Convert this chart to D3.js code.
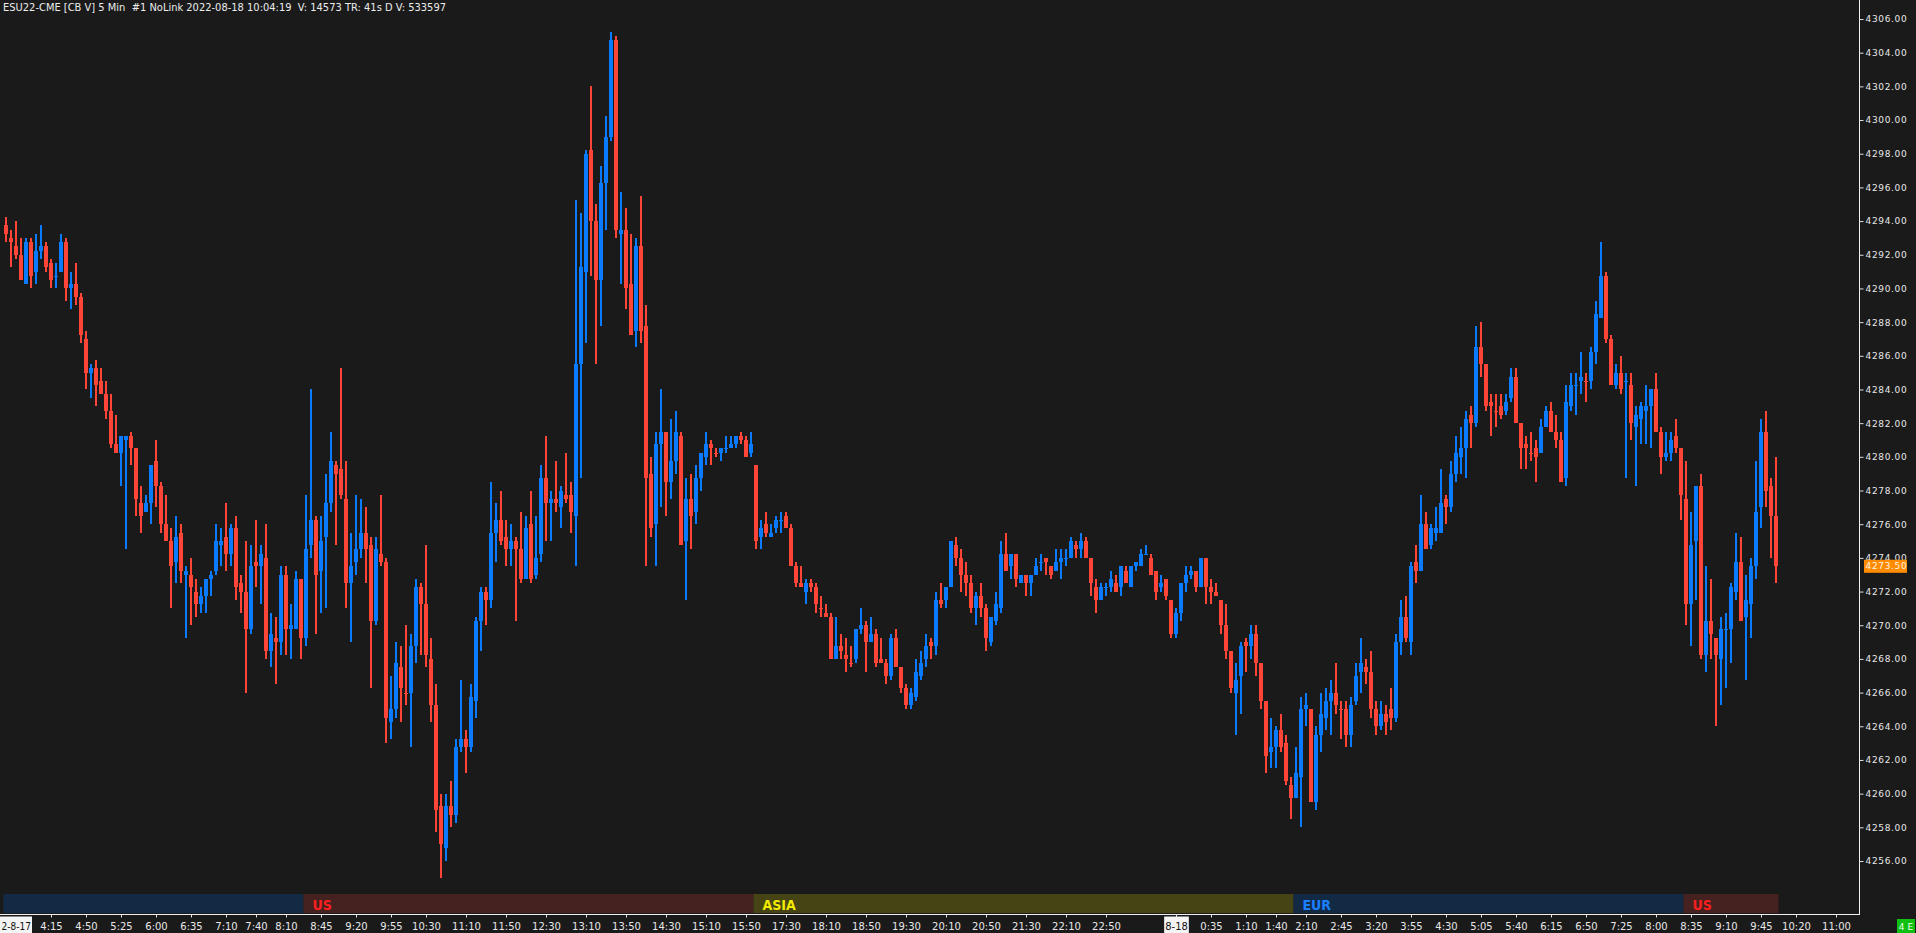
<!DOCTYPE html>
<html><head><meta charset="utf-8">
<script src="https://cdn.jsdelivr.net/npm/d3@7"></script>
<style>html,body{margin:0;padding:0;background:#1a1a1a;overflow:hidden}</style>
</head><body>
<svg id="c" width="1916" height="933"></svg>
<script>
// ESU22 5-min bars, 2022-08-17 03:30 .. 2022-08-18 10:00 (no bars 16:00-17:00)
const openP = [
4293.75,4293,4292.5,4292,4290.25,4292.75,4291,4292.25,4292.5,4291.5,
4290.75,4291,4292.75,4290,4290.25,4289.5,4287,4285,4285.25,4284.5,
4283.75,4282.75,4280.75,4280.25,4281,4281.25,4280.5,4277.25,4276.75,4277.25,
4279.75,4278.25,4276,4275,4273.75,4275.5,4273,4273,4272,4271.25,
4271.75,4272.75,4273.25,4274.75,4275.25,4274.25,4275.75,4272.5,4272,4269.75,
4273.75,4273.5,4274,4268.5,4269.25,4269,4273,4269.75,4269.75,4272.75,
4269.25,4274.75,4276.25,4273.25,4275.25,4277.25,4279.5,4279.25,4277.5,4272.5,
4273.75,4274.5,4275.5,4274.75,4270.25,4274.25,4273.75,4264.25,4265,4267.5,
4266,4266,4268.75,4272.25,4271.25,4268,4265.25,4259.25,4256.75,4259.25,
4258.75,4262.75,4263.25,4262.75,4265.5,4270.25,4272,4271.5,4275.5,4276.25,
4275.25,4274.5,4275,4274.5,4272.75,4276,4273,4274.25,4278.75,4277.25,
4277.5,4277,4277.75,4277.75,4276.5,4285.5,4291,4298.25,4294,4290.5,
4296.25,4299,4304.75,4293.25,4293.5,4290.25,4287.5,4292.5,4287.75,4279,
4276,4280.75,4281.5,4278.5,4279.75,4281.25,4275,4277.5,4276.75,4278.75,
4280,4280.75,4280.25,4280.25,4280.5,4280.5,4280.75,4281.25,4281,4280.25,
4279.5,4275.25,4276,4275.25,4275.75,4276.25,4276.5,4275.75,4273.5,4272.5,
4272,4272.5,4272.25,4271,4270.75,4270.5,4268,4268.75,4268.25,4267.75,
4268,4269.75,4270,4269,4269.5,4268,4267.75,4267,4269.25,4267.5,
4266.25,4265.25,4265.75,4267,4268,4269,4268.75,4271.5,4271.5,4272.25,
4274.75,4274,4273,4272.5,4271,4271.75,4271,4269,4270.25,4271,
4274.25,4273.5,4274.25,4272.5,4273,4272.5,4273,4273.75,4274,4273.5,
4273.25,4273.75,4274,4274,4274.75,4274.5,4275,4274,4272.25,4271.5,
4272.25,4272.25,4272.5,4272.25,4273.25,4272.25,4273.5,4273.5,4274.25,4274,
4273.25,4272.25,4272.75,4271.5,4269.5,4270.75,4272.5,4273,4273.25,4272.25,
4274,4272.25,4272,4271.5,4270,4268.5,4266,4267,4269,4268.75,
4269.5,4267.75,4265.5,4262.5,4262.75,4263.75,4263,4260.5,4259.75,4261,
4265,4265,4259.5,4263.5,4264.5,4265.5,4266,4265,4265,4263.5,
4265.5,4267.25,4267.5,4267.25,4265,4264,4264.75,4265,4264.5,4269,
4270.5,4269,4273.75,4273.25,4276,4274.75,4275.5,4275.5,4277.5,4277,
4279,4280,4280.5,4282.5,4282,4286.5,4285.5,4283.25,4282.75,4283,
4282.75,4283.5,4284.75,4282,4280.75,4280.25,4280.5,4280.25,4281.75,4282.75,
4281.5,4281,4278.75,4283,4284.25,4284.5,4284.5,4284.5,4286.25,4288.25,
4290.75,4287,4284.25,4285,4284.5,4284.25,4281.75,4282.25,4282.75,4283,
4284,4281.5,4280,4280.25,4281.25,4280.5,4277.5,4271.25,4275,4278.25,
4268.25,4270.25,4269.25,4268,4269.75,4269.75,4272,4273.75,4270.5,4271.25,
4273.5,4277,4281.5,4278.25,4276.5];
const highP = [
4294.25,4293.5,4294,4293,4293,4293,4293.25,4293.75,4292.75,4291.75,
4291.5,4293.25,4293,4291,4291.5,4289.75,4287.5,4285.5,4285.75,4285.25,
4284.5,4283.75,4282.5,4281.25,4281.25,4281.5,4280.5,4278.25,4277.75,4279.5,
4281,4278.5,4277.75,4275.75,4276.5,4276,4273.5,4274,4272.75,4272.25,
4272.75,4273.25,4276,4275.75,4277.25,4276,4276.5,4273,4275,4274.75,
4276.25,4274.75,4276,4270.75,4270.5,4273.5,4273.5,4271.25,4273.25,4272.75,
4277.75,4284,4276.5,4276.5,4279,4281.5,4279.75,4285.25,4279.75,4275.5,
4277.75,4277.5,4277,4275.25,4275.25,4277.75,4274,4267,4269,4268.75,
4270,4269.5,4272.75,4272.5,4274.75,4269.25,4266.5,4260,4260,4260.75,
4263.25,4266.75,4263.75,4266.5,4270.5,4272.25,4272.25,4278.5,4277.25,4278,
4276.25,4276,4275.25,4276.75,4276.5,4278,4276.5,4279.5,4281.25,4278,
4279.75,4278.25,4280.25,4278.5,4295.25,4294.5,4298.25,4302,4295,4297.25,
4300.25,4305.25,4305,4295.75,4294.75,4293.25,4293,4295.5,4289,4280,
4281.5,4284,4281.5,4282.25,4282.75,4281.5,4278.75,4279,4279.5,4280.25,
4281.5,4281,4280.5,4280.5,4281.25,4281.25,4281.25,4281.5,4281.25,4281.5,
4279.5,4276.25,4276.75,4276,4276.5,4276.75,4276.75,4276,4273.75,4273.5,
4272.75,4272.75,4272.5,4271.75,4271.25,4270.75,4270.5,4269.5,4269.25,4268.75,
4269.75,4271,4270.25,4270.5,4269.75,4269.25,4268,4269.5,4269.75,4267.5,
4266.5,4266.25,4268,4268.5,4269.5,4269.25,4272,4272.5,4272.25,4275,
4275.25,4274.5,4273.75,4273,4272,4272.5,4271.25,4270.5,4272,4275,
4275.5,4274.25,4274.25,4273,4273,4273,4274,4274.25,4274,4273.5,
4274.5,4274.5,4274.5,4275.25,4275,4275.5,4275.25,4274,4272.75,4272.5,
4272.5,4273.25,4273,4273.5,4273.5,4273.5,4273.75,4274.5,4274.75,4274.25,
4273.25,4273,4272.75,4271.5,4271,4272.5,4273.5,4273.5,4273.25,4274,
4274,4272.75,4272.5,4271.5,4271.25,4268.5,4267.75,4269,4269.25,4270,
4270,4267.75,4265.5,4264.5,4264,4264.75,4263.5,4261,4262.75,4265.75,
4266,4265,4264,4266,4266.25,4266.75,4267.75,4265.5,4265.5,4265.75,
4267.75,4269.25,4268,4268.5,4265.5,4265.5,4265.25,4266.25,4269.5,4271.5,
4271.75,4273.75,4274.75,4277.75,4276.75,4276,4277,4279.25,4277.75,4279.75,
4281.25,4281.75,4282.75,4283,4287.75,4288,4285.5,4283.75,4283.75,4283.75,
4283.75,4285.25,4285.25,4282,4281.25,4281.5,4281,4282.25,4283,4283.25,
4282.5,4281.5,4284.25,4285,4285,4286.25,4285,4286.5,4289.25,4292.75,
4291,4287.25,4285.5,4286,4285,4285,4283,4283.25,4284.25,4284,
4285,4281.75,4281.5,4281.5,4282.25,4280.5,4279.75,4276.75,4278.25,4279,
4273.5,4272.75,4269.25,4270.5,4270.75,4272.5,4275.5,4275.25,4273,4274,
4279.75,4282.25,4282.75,4278.75,4280];
const lowP = [
4292.75,4291.25,4291.75,4290.5,4290.25,4290,4290.25,4291.75,4291,4290,
4290,4291,4289.25,4288.75,4289,4286.75,4284,4283.5,4283,4283.75,
4282.25,4280.5,4280.25,4278.25,4274.5,4279.5,4276.5,4275.5,4276.75,4276,
4277,4275.5,4275,4271,4272.5,4272.5,4269.25,4270,4270.5,4270.75,
4270.75,4271.75,4273,4273.5,4273.25,4273.5,4271.5,4270.75,4266,4269.5,
4272.25,4271.25,4268,4267.5,4266.5,4268.25,4268.25,4268,4269.75,4268,
4268.75,4274,4269.5,4270.75,4271,4276.75,4274.75,4277.5,4271,4269,
4273,4274,4272.5,4266.25,4270,4273.5,4263,4263.25,4264.5,4264.25,
4265.25,4262.75,4267.75,4268.25,4267.5,4264.25,4257.75,4255,4256,4258,
4258.25,4262.5,4261.25,4262.5,4264.5,4268.5,4270,4271,4273.75,4274.75,
4273.5,4273.5,4270.25,4272.5,4272.75,4272.5,4272.75,4273.75,4275,4275,
4276.75,4275.75,4277.25,4275.5,4273.5,4278.75,4286.75,4290.75,4285.5,4287.75,
4293.5,4298.75,4293,4290.25,4288.75,4287.25,4286.5,4286.75,4273.5,4275.25,
4273.5,4277,4276.5,4277.5,4279,4274.75,4271.5,4274.5,4276,4278,
4279.5,4279.5,4280,4279.75,4280.25,4280.5,4280.5,4280.75,4280,4280,
4274.5,4274.5,4275.25,4275.25,4275.5,4275.5,4275.75,4273.5,4272.25,4272.25,
4271.25,4272,4270.75,4270.5,4270.5,4268,4268,4268,4267.25,4267.5,
4267.75,4269.5,4267.25,4269,4267.5,4267.75,4266.5,4266.75,4267.5,4266,
4265,4265,4265.5,4266.75,4267.5,4268,4268.25,4271,4271,4272.25,
4273.5,4272,4271.75,4270.75,4270,4270.5,4268.5,4268.75,4270,4270.75,
4273.25,4272.75,4272.25,4272.5,4271.75,4271.75,4273,4273.25,4273,4272.75,
4273.25,4272.75,4273.5,4274,4274,4274,4274,4271.75,4270.75,4271.5,
4271.75,4272,4272,4271.75,4272.5,4272.25,4273.25,4273.5,4274.25,4273,
4271.5,4272,4271.5,4269.25,4269.25,4270.25,4272,4272.75,4272,4272.25,
4271.25,4271.25,4271.75,4269.5,4268,4266,4263.5,4264.75,4267.25,4268,
4267,4265,4261.25,4261.5,4261.5,4262.5,4260.5,4258.5,4259.75,4258,
4264,4259.5,4259,4262.5,4263.75,4263.5,4264.75,4263.25,4262.75,4262.75,
4265.25,4266,4266.5,4264.5,4263.5,4263.75,4263.5,4263.75,4264.25,4268.25,
4269,4268.25,4272.5,4273.25,4274.5,4274.5,4275,4275.5,4276,4276.75,
4278.5,4279,4278.75,4280.5,4281.75,4284.75,4282.75,4281.25,4281.75,4282.25,
4282.5,4283.25,4282,4279.25,4279.25,4279.75,4278.5,4280.25,4281.75,4281.5,
4280.5,4278.5,4278.25,4282.75,4282.5,4283.75,4283.25,4284,4285.5,4288.25,
4286.75,4284.25,4284,4283.75,4278.75,4281,4278.25,4280.75,4280.75,4280.5,
4281.5,4279,4279.75,4279.75,4280.25,4276.25,4270,4268.75,4271.5,4268,
4267.25,4268,4264,4265.25,4266.25,4267.75,4271.5,4270.25,4266.75,4269.25,
4272.75,4275.75,4277,4274,4272.5];
const closeP = [
4293.25,4292.75,4292,4290.5,4292.75,4290.75,4292.25,4292.5,4291.25,4290.5,
4290.75,4292.75,4290,4290.25,4289.5,4287.25,4285,4285.25,4284.25,4283.75,
4282.75,4280.75,4280.25,4281.25,4281.25,4280.5,4277.5,4276.5,4277.25,4279.5,
4278.25,4276,4275,4273.5,4275.25,4273.25,4273.25,4272.25,4271.25,4271.75,
4272.75,4273,4275,4275,4274.25,4275.75,4272.25,4272,4269.75,4273.5,
4273.5,4274.25,4268.5,4269.5,4269,4273,4269.75,4270,4272.75,4269.25,
4274.5,4276.25,4273,4275,4277.25,4279.75,4279,4277.75,4272.5,4273.5,
4274.5,4275.5,4274.5,4270.25,4274.5,4273.75,4264.5,4265,4267.75,4266.25,
4266,4268.75,4272.25,4271.25,4268.25,4265.25,4259,4257,4259.25,4258.75,
4262.75,4263.25,4262.75,4265.75,4270.25,4272,4271.5,4275.5,4276.25,4275,
4274.5,4275,4274.5,4272.75,4275.75,4272.75,4274,4278.75,4277.25,4277.5,
4277.25,4278,4277.5,4276.75,4285.5,4291.25,4298,4294,4290.5,4296.25,
4299,4304.75,4293.5,4293.5,4290,4287.25,4292.5,4287.5,4278.75,4275.75,
4280.75,4281.5,4278.5,4279.75,4281.5,4274.75,4277.5,4276.5,4278.75,4280.25,
4280.75,4280.5,4280.25,4280.5,4280.5,4280.75,4281.25,4281,4280,4280.75,
4275,4275.75,4275.5,4275.5,4276.25,4276.25,4275.75,4273.5,4272.5,4272.25,
4272.5,4272.25,4271.25,4271,4270.5,4268,4268.75,4268.5,4268,4267.75,
4269.75,4270,4269,4269.5,4267.75,4267.75,4267,4269.25,4267.5,4266.25,
4265.25,4266,4267.25,4267.75,4268.75,4268.75,4271.5,4271.25,4272.25,4275,
4274,4273,4272.5,4271,4271.75,4271,4269.25,4270.5,4271.25,4274.25,
4273.25,4274.25,4272.75,4273,4272.5,4273,4273.5,4273.75,4273.75,4273,
4273.75,4274,4274,4275,4274.5,4275,4274,4272.5,4271.5,4272.25,
4272.25,4272.75,4272,4273.5,4272.5,4273.5,4273.75,4274.25,4274.25,4273,
4272,4272.5,4271.75,4269.5,4270.75,4272.5,4273,4273.25,4272.25,4274,
4272.25,4272,4271.75,4270,4268.5,4266.25,4266.75,4268.75,4268.75,4269.5,
4267.75,4265.5,4262.25,4262.75,4263.75,4262.75,4260.75,4259.75,4261.25,4265,
4265.25,4259.5,4263.5,4264.75,4265.5,4266,4265.25,4265,4263.5,4265.25,
4267,4267.75,4267.25,4265,4264,4264.75,4264.25,4264.5,4269,4270.5,
4269.25,4273.5,4273.25,4276,4274.5,4275.75,4275.75,4277.25,4277,4279,
4280.25,4280.5,4282.25,4282,4286.5,4285.5,4283,4283,4282.75,4282.5,
4283.25,4284.75,4282,4280.5,4280.5,4280.25,4280,4281.75,4282.75,4281.5,
4281,4278.5,4283.25,4284.25,4284.25,4284.75,4284.5,4286.25,4288.5,4290.75,
4287,4284.25,4285,4284,4284.5,4282,4282.5,4283,4283,4284,
4281.5,4280,4280.25,4281,4280.5,4277.75,4271.25,4274.75,4278.25,4268.25,
4270.25,4269.5,4268.25,4269.75,4269.75,4272.25,4273.75,4270.25,4271.5,4273.5,
4276.75,4281.5,4278,4276.5,4273.5];

// time-axis labels: [label, day, time]
const timeTicks = [
 ["4:15",17,"4:15"],["4:50",17,"4:50"],["5:25",17,"5:25"],["6:00",17,"6:00"],["6:35",17,"6:35"],
 ["7:10",17,"7:10"],["7:40",17,"7:40"],["8:10",17,"8:10"],["8:45",17,"8:45"],["9:20",17,"9:20"],
 ["9:55",17,"9:55"],["10:30",17,"10:30"],["11:10",17,"11:10"],["11:50",17,"11:50"],["12:30",17,"12:30"],
 ["13:10",17,"13:10"],["13:50",17,"13:50"],["14:30",17,"14:30"],["15:10",17,"15:10"],["15:50",17,"15:50"],
 ["17:30",17,"17:30"],["18:10",17,"18:10"],["18:50",17,"18:50"],["19:30",17,"19:30"],["20:10",17,"20:10"],
 ["20:50",17,"20:50"],["21:30",17,"21:30"],["22:10",17,"22:10"],["22:50",17,"22:50"],["8-18",18,"0:00"],
 ["0:35",18,"0:35"],["1:10",18,"1:10"],["1:40",18,"1:40"],["2:10",18,"2:10"],["2:45",18,"2:45"],
 ["3:20",18,"3:20"],["3:55",18,"3:55"],["4:30",18,"4:30"],["5:05",18,"5:05"],["5:40",18,"5:40"],
 ["6:15",18,"6:15"],["6:50",18,"6:50"],["7:25",18,"7:25"],["8:00",18,"8:00"],["8:35",18,"8:35"],
 ["9:10",18,"9:10"],["9:45",18,"9:45"],["10:20",18,"10:20"],["11:00",18,"11:00"]];
const priceTicks = d3.range(4256, 4307, 2);
const sessionNames = ["", "US", "ASIA", "EUR", "US"];
const sessionStarts = [[17,"3:30"],[17,"8:30"],[17,"17:00"],[18,"2:00"],[18,"8:30"]];
const sessionEnd = [18,"10:05"];
const lastPrice = 4273.50;
const title = "ESU22-CME [CB V] 5 Min  #1 NoLink 2022-08-18 10:04:19  V: 14573 TR: 41s D V: 533597";

function barIndex(day, t){
  const [hh, mm] = t.split(":").map(Number);
  const m = hh*60 + mm;
  if (day === 17) return m < 960 ? (m - 210)/5 : 150 + (m - 1020)/5;
  return 234 + m/5;
}

const svg = d3.select("#c");
const W = 1916, H = 933, plotR = 1859, plotB = 915;
const x = d3.scaleLinear().domain([0, 366]).range([6, 1836]);
const y = d3.scaleLinear().domain([4256, 4306]).range([861, 19]);
const UP = "#0a7bff", DN = "#ff4438";

svg.append("rect").attr("width", W).attr("height", H).attr("fill", "#1a1a1a");

const bars = openP.map((o, i) => ({i, o, h: highP[i], l: lowP[i], c: closeP[i]}));
bars.forEach((b, k) => {
  const prev = k > 0 ? bars[k-1].c : b.o;
  b.up = b.c > b.o || (b.c === b.o && b.c >= prev);
});

svg.append("clipPath").attr("id", "pc").append("rect").attr("x", 0).attr("y", 0).attr("width", plotR).attr("height", plotB);
const gBars = svg.append("g").attr("clip-path", "url(#pc)").attr("shape-rendering", "crispEdges");

gBars.selectAll("rect.w").data(bars).join("rect").attr("class", "w")
  .attr("x", d => Math.round(x(d.i)) - 1).attr("width", 2)
  .attr("y", d => y(d.h)).attr("height", d => Math.max(1, y(d.l) - y(d.h)))
  .attr("fill", d => d.up ? UP : DN);
gBars.selectAll("rect.b").data(bars).join("rect").attr("class", "b")
  .attr("x", d => Math.round(x(d.i)) - 2).attr("width", 4)
  .attr("y", d => y(Math.max(d.o, d.c))).attr("height", d => Math.max(1, Math.abs(y(d.o) - y(d.c))))
  .attr("fill", d => d.up ? UP : DN);

// session bands
const sessColors = {"": "#132a45", "US": "#45211f", "ASIA": "#464414", "EUR": "#132a45"};
const sessText = {"US": "#ff1f1f", "ASIA": "#f2ea00", "EUR": "#1a80ff"};
sessionNames.forEach((name, k) => {
  const i0 = barIndex(sessionStarts[k][0], sessionStarts[k][1]);
  const e = k < sessionNames.length - 1 ? sessionStarts[k+1] : sessionEnd;
  const i1 = barIndex(e[0], e[1]);
  const x0 = x(i0) - 2.5, x1 = x(i1) - 2.5;
  svg.append("rect").attr("x", x0).attr("y", 894).attr("width", x1 - x0).attr("height", 19)
    .attr("fill", sessColors[name]);
  if (name) svg.append("text").attr("x", x0 + 9).attr("y", 910).text(name)
    .attr("fill", sessText[name])
    .style("font", "bold 14px 'DejaVu Sans Condensed','Liberation Sans Narrow','DejaVu Sans',sans-serif")
    .style("font-stretch", "condensed");
});

// frame
svg.append("line").attr("x1", plotR + 0.5).attr("x2", plotR + 0.5).attr("y1", 0).attr("y2", plotB)
  .attr("stroke", "#f0f0f0").attr("stroke-width", 1);
svg.append("line").attr("x1", 0).attr("x2", plotR + 1).attr("y1", plotB - 0.5).attr("y2", plotB - 0.5)
  .attr("stroke", "#f0f0f0").attr("stroke-width", 1);

// price axis
const gy = svg.append("g").attr("transform", `translate(${plotR + 0.5},0)`)
  .call(d3.axisRight(y).tickValues(priceTicks).tickFormat(d3.format(".2f")).tickSize(4).tickPadding(2));
gy.select(".domain").remove();
gy.selectAll("line").attr("stroke", "#e0e0e0");
gy.selectAll("text").attr("fill", "#e8e8e8")
  .style("font", "9px 'DejaVu Sans',sans-serif").style("letter-spacing", "0.65px");

// current price label
svg.append("rect").attr("x", plotR + 5).attr("y", y(lastPrice) - 6.5).attr("width", 43).attr("height", 13)
  .attr("fill", "#ff8c00");
svg.append("text").attr("x", plotR + 6.5).attr("y", y(lastPrice)).attr("dy", "0.32em")
  .text(d3.format(".2f")(lastPrice)).attr("fill", "#fff4e6")
  .style("font", "9px 'DejaVu Sans',sans-serif").style("letter-spacing", "0.65px");

// time axis
const tickIdx = timeTicks.map(t => barIndex(t[1], t[2]));
const gx = svg.append("g").attr("transform", `translate(0,${plotB - 0.5})`)
  .call(d3.axisBottom(x).tickValues(tickIdx).tickFormat((d, k) => timeTicks[k][0]).tickSize(3).tickPadding(5));
gx.select(".domain").remove();
gx.selectAll("line").attr("stroke", "#e0e0e0");
gx.selectAll("text").attr("fill", "#e8e8e8").style("font", "10px 'DejaVu Sans',sans-serif");
gx.selectAll(".tick").filter((d, k) => timeTicks[k][0].includes("-")).each(function(){
  const t = d3.select(this).select("text");
  const bb = t.node().getBBox();
  d3.select(this).insert("rect", "text").attr("x", bb.x - 1).attr("y", 2).attr("width", bb.width + 2)
    .attr("height", 17).attr("fill", "#f4f4f4");
  t.attr("fill", "#111");
});
// leftmost (cut off) date label
svg.append("rect").attr("x", 0).attr("y", plotB + 1.5).attr("width", 32).attr("height", 17).attr("fill", "#f4f4f4");
svg.append("text").attr("x", 31).attr("y", 930).attr("text-anchor", "end").text("2-8-17")
  .attr("fill", "#111").style("font", "10px 'DejaVu Sans Condensed','DejaVu Sans',sans-serif").style("font-stretch", "condensed");

// green box bottom right
svg.append("rect").attr("x", 1897).attr("y", 919).attr("width", 18).attr("height", 14).attr("fill", "#10c010");
svg.append("text").attr("x", 1906).attr("y", 930).attr("text-anchor", "middle").text("4 E")
  .attr("fill", "#f0fff0").style("font", "9px 'DejaVu Sans',sans-serif");

// title
svg.append("text").attr("x", 3).attr("y", 10.5).text(title)
  .attr("fill", "#ececec").attr("textLength", 443).attr("lengthAdjust", "spacingAndGlyphs")
  .style("font", "10px 'DejaVu Sans',sans-serif").style("white-space", "pre");
</script>
</body></html>
